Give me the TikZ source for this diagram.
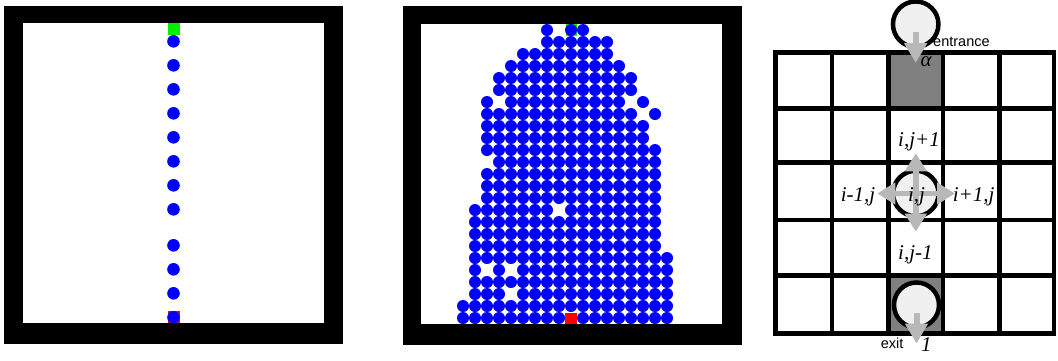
\documentclass[tikz,border=0pt]{standalone}
\usepackage{fontspec}
\setmainfont{Liberation Serif}
\setsansfont{Liberation Sans}
\usetikzlibrary{arrows.meta}
\definecolor{dotblue}{RGB}{0,0,255}
\definecolor{sqgreen}{RGB}{0,240,0}
\definecolor{sqred}{RGB}{255,0,0}
\definecolor{cellgray}{RGB}{128,128,128}
\definecolor{arrowgray}{RGB}{184,184,184}
\definecolor{ballfill}{RGB}{240,240,240}
\begin{document}
\begin{tikzpicture}[x=1pt,y=-1pt,
  frame/.style={fill=black},
  gridline/.style={line width=4.8pt, line cap=rect},
  ball/.style={circle, draw=black, line width=4.5pt, fill=ballfill, inner sep=0pt},
  move/.style={draw=arrowgray, line width=6pt, -{Triangle[width=22pt,length=20pt]}},
  smallmove/.style={draw=arrowgray, line width=5.5pt, -{Triangle[width=21pt,length=18pt]}},
  lab/.style={font=\fontsize{21}{21}\selectfont\itshape, inner sep=0pt},
  word/.style={font=\sffamily\fontsize{14.5}{14.5}\selectfont, inner sep=0pt}]
\useasboundingbox (0,0) rectangle (1058,360);
\fill[white] (0,0) rectangle (1058,360);

% ---------- left panel ----------
\fill[frame] (4,6) rectangle (343,344);
\fill[white] (23,22.5) rectangle (324,323);
\fill[sqgreen] (167.5,22.5) rectangle (179.5,34.5);
\fill[sqred] (167.5,311) rectangle (179.5,323);
\foreach \r in {1,3,5,7,9,11,13,15,18,20,22,24}
  \fill[dotblue] (173.5,{41.3+12*(\r-1)}) circle[radius=6.3pt];

% ---------- middle panel ----------
\fill[frame] (403,6) rectangle (742,345);
\fill[white] (421,24) rectangle (721.5,324);
\fill[sqgreen] (565.5,24) rectangle (577,35.5);
\foreach \r/\a/\b in {0/10/10, 0/12/13, 1/10/15, 2/8/15, 3/7/16, 4/6/17, 5/6/17,
  6/5/5, 6/7/16, 6/18/18, 7/5/17, 7/19/19, 8/5/18, 9/5/18, 10/5/19, 11/6/19,
  12/5/19, 13/5/19, 14/5/19, 15/4/10, 15/12/19, 16/4/19, 17/4/19, 18/4/19,
  19/4/20, 20/4/4, 20/6/6, 20/8/20, 21/4/20, 22/4/6, 22/8/20, 23/3/20,
  24/3/11, 24/13/20}
  \foreach \c in {\a,...,\b}
    \fill[dotblue] ({427+12*\c},{30+12*\r}) circle[radius=6pt];
\fill[sqred] (565.3,312.5) rectangle (577.3,324);

% ---------- right panel ----------
\fill[cellgray] (888.5,52.5) rectangle (943,108.5);
\fill[cellgray] (888.5,275.8) rectangle (943,333.3);
\foreach \x in {775.5,832,888.5,943,999.5,1054}
  \draw[gridline] (\x,52.5) -- (\x,333.3);
\foreach \y in {52.5,108.5,162.7,220,275.8,333.3}
  \draw[gridline] (775.5,\y) -- (1054,\y);

\node[ball, minimum size=45.5pt] (topball) at (915.7,24.2) {};
\node[ball, minimum size=45.5pt] (midball) at (915.8,193.5) {};
\node[ball, minimum size=45pt] (botball) at (916.5,305) {};

\coordinate (topA) at (915.7,31.5);
\coordinate (topB) at (915.7,63);
\draw[move] (topA) -- (topB);

\coordinate (ctr) at (915.8,193.5);
\coordinate (ctrU) at (915.8,153.3);
\coordinate (ctrD) at (915.8,231.7);
\coordinate (ctrL) at (877.3,193.5);
\coordinate (ctrR) at (955,193.5);
\draw[smallmove] (ctr) -- (ctrU);
\draw[smallmove] (ctr) -- (ctrD);
\draw[smallmove] (ctr) -- (ctrL);
\draw[smallmove] (ctr) -- (ctrR);

\coordinate (botA) at (916.5,313);
\coordinate (botB) at (916.5,343.5);
\draw[move] (botA) -- (botB);

\node[lab, anchor=base west] (alpha) at (920.5,66.5) {α};
\node[word, anchor=base west] (entr) at (933,46.7) {entrance};
\node[word, anchor=base west] (exitlab) at (880.7,348.3) {exit};
\node[lab, anchor=base west] (one) at (921,351.5) {1};
\node[lab, anchor=base west] (up) at (898,146.7) {i,j+1};
\node[lab, anchor=base east] (left) at (875.5,201) {i-1,j};
\node[lab, anchor=base] (mid) at (916.5,201) {i,j};
\node[lab, anchor=base west] (right) at (952.7,201) {i+1,j};
\node[lab, anchor=base west] (down) at (898,259) {i,j-1};
\end{tikzpicture}
\end{document}
